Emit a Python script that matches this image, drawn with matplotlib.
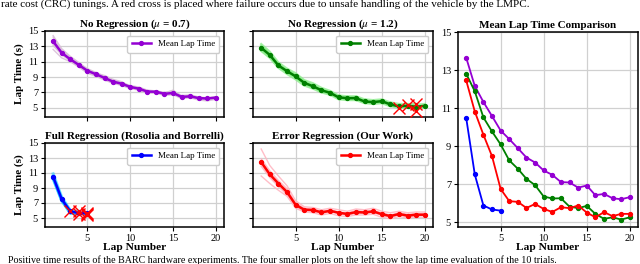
import matplotlib
matplotlib.use("Agg")
import matplotlib.pyplot as plt

plt.rcParams["font.family"] = ["Liberation Serif", "DejaVu Serif"]
plt.rcParams["mathtext.fontset"] = "stix"

LAPS = list(range(1, 21))

# mean lap times (s)
mean_mu07 = [13.65, 12.16, 11.32, 10.58, 9.82, 9.37, 8.89, 8.40, 8.14, 7.72,
             7.49, 7.11, 7.09, 6.82, 6.93, 6.42, 6.49, 6.26, 6.21, 6.32]
mean_mu12 = [12.81, 11.88, 10.51, 9.77, 9.09, 8.25, 7.81, 7.28, 6.95, 6.35,
             6.25, 6.26, 5.82, 5.74, 5.86, 5.44, 5.18, 5.26, 5.14, 5.26]
mean_full = [10.49, 7.51, 5.88, 5.67, 5.61]
mean_err = [12.46, 10.82, 9.60, 8.47, 6.75, 6.11, 6.07, 5.75, 5.96, 5.70,
            5.54, 5.79, 5.74, 5.88, 5.51, 5.26, 5.53, 5.32, 5.44, 5.44]

# individual trials (shorter lists = failed trial, marked with a cross)
trials_mu07 = [
    [14.2, 12.5, 11.6, 10.8, 10.1, 9.6, 9.1, 8.6, 8.3, 7.9, 7.7, 7.3, 7.2, 7.0, 7.2, 6.6, 6.7, 6.4, 6.3, 6.4],
    [12.6, 11.5, 11.0, 10.3, 9.5, 9.1, 8.6, 8.2, 7.9, 7.5, 7.3, 6.9, 6.9, 6.6, 6.7, 6.2, 6.3, 6.0, 5.9, 6.1],
    [13.9, 12.3, 11.2, 10.6, 9.9, 9.5, 9.0, 8.5, 8.2, 7.8, 7.5, 7.2, 7.0, 6.9, 7.0, 6.5, 6.6, 6.3, 6.3, 6.4],
    [13.3, 12.0, 11.4, 10.5, 9.7, 9.2, 8.8, 8.3, 8.0, 7.6, 7.4, 7.0, 7.1, 6.7, 6.8, 6.3, 6.4, 6.2, 6.1, 6.2],
    [14.4, 12.7, 11.7, 10.9, 10.0, 9.5, 9.2, 8.7, 8.4, 7.7, 7.6, 7.2, 7.2, 6.9, 7.3, 6.5, 6.5, 6.3, 6.3, 6.4],
    [13.1, 11.9, 11.1, 10.4, 9.6, 9.3, 8.7, 8.2, 8.0, 7.7, 7.4, 7.0, 7.0, 6.8, 6.8, 6.4, 6.4, 6.2, 6.1, 6.3],
]
trials_mu12 = [
    [13.3, 12.3, 10.9, 10.1, 9.5, 8.6, 8.2, 7.6, 7.2, 6.6, 6.5, 6.5, 6.1, 6.0, 6.1, 5.7, 5.5, 5.5, 5.4, 5.5],
    [12.4, 11.5, 10.2, 9.4, 8.7, 7.9, 7.5, 7.0, 6.7, 6.1, 6.0, 6.0, 5.6, 5.5, 5.6, 5.2, 5.0, 5.0, 4.9, 5.0],
    [13.0, 12.0, 10.7, 9.9, 9.3, 8.5, 8.0, 7.4, 7.1, 6.5, 6.3, 6.4, 5.9, 5.8, 6.0, 5.5, 5.0],
    [12.6, 11.7, 10.4, 9.6, 9.0, 8.1, 7.6, 7.2, 6.8, 6.3, 6.2, 6.2, 5.7, 5.7, 5.8, 5.4, 5.3, 5.3],
    [13.1, 12.1, 10.6, 9.9, 9.2, 8.4, 7.9, 7.3, 7.0, 6.4, 6.3, 6.3, 5.9, 5.8, 5.9, 5.5, 5.3, 5.4, 5.5],
    [12.5, 11.6, 10.3, 9.6, 8.9, 8.1, 7.7, 7.1, 6.9, 6.2, 6.1, 6.1, 5.7, 5.6, 5.7, 5.3, 5.1, 5.1, 4.6],
]
trials_full = [
    [10.9, 7.8, 6.0],
    [10.2, 7.3, 5.7, 5.5],
    [10.6, 7.6, 5.9, 5.9],
    [10.4, 7.4, 5.8, 5.6, 5.7],
    [10.5, 7.5, 6.0, 5.7, 5.4],
    [10.3, 7.4, 5.6, 5.6, 5.6],
]
trials_err = [
    [14.2, 12.0, 10.6, 9.3, 7.3, 6.5, 6.4, 6.1, 6.3, 6.1, 5.9, 6.2, 6.1, 6.3, 5.9, 5.7, 5.9, 5.7, 5.8, 5.8],
    [10.6, 9.6, 8.7, 7.9, 6.3, 5.8, 5.7, 5.4, 5.6, 5.3, 5.2, 5.4, 5.4, 5.5, 5.1, 4.9, 5.2, 5.0, 5.1, 5.1],
    [12.9, 11.3, 10.0, 8.9, 7.0, 6.3, 6.2, 5.9, 6.1, 5.8, 5.7, 6.0, 5.9, 6.0, 5.7, 5.4, 5.7, 5.5, 5.6, 5.6],
    [12.2, 10.5, 9.3, 8.2, 6.5, 5.9, 5.9, 5.6, 5.8, 5.6, 5.4, 5.6, 5.6, 5.7, 5.4, 5.1, 5.4, 5.2, 5.3, 5.3],
    [12.6, 10.9, 9.8, 8.6, 6.9, 6.2, 6.1, 5.8, 6.0, 5.7, 5.6, 5.8, 5.7, 5.9, 5.5, 5.3, 5.5, 5.3, 5.4, 5.4],
    [11.9, 10.4, 9.2, 8.1, 6.6, 6.0, 6.0, 5.6, 5.9, 5.6, 5.4, 5.7, 5.7, 5.8, 5.4, 5.2, 5.5, 5.2, 5.4, 5.4],
]

PANELS = [
    (r"No Regression ($\mu$ = 0.7)", mean_mu07, trials_mu07, "darkviolet", "thistle", 1.0, 0.9),
    (r"No Regression ($\mu$ = 1.2)", mean_mu12, trials_mu12, "green", "lightgreen", 1.6, 0.8),
    ("Full Regression (Rosolia and Borrelli)", mean_full, trials_full, "blue", "deepskyblue", 2.2, 0.45),
    ("Error Regression (Our Work)", mean_err, trials_err, "red", "lightpink", 1.0, 0.9),
]

YTICKS = [5, 7, 9, 11, 13, 15]
XTICKS = [5, 10, 15, 20]

W, H = 640, 264


def px_axes(fig, x0, y0, x1, y1):
    return fig.add_axes([x0 / W, 1 - y1 / H, (x1 - x0) / W, (y1 - y0) / H])


def style(ax, ylim):
    ax.set_xlim(0.05, 20.95)
    ax.set_ylim(*ylim)
    ax.set_xticks(XTICKS)
    ax.set_yticks(YTICKS)
    ax.grid(True, color="#d0d0d0", lw=0.9)
    ax.set_axisbelow(True)
    ax.tick_params(labelsize=7.5, length=3, width=0.8, pad=2)
    for s in ax.spines.values():
        s.set_linewidth(1.1)


fig = plt.figure(figsize=(W / 100, H / 100), dpi=100)

boxes = [(45, 31, 224, 117), (253, 31, 433, 117), (45, 143, 224, 227), (253, 143, 433, 227)]
for i, (box, panel) in enumerate(zip(boxes, PANELS)):
    title, mean, trials, color, tcolor, tlw, talpha = panel
    ax = px_axes(fig, *box)
    style(ax, (3.8, 15))
    for t in trials:
        ax.plot(LAPS[:len(t)], t, color=tcolor, lw=tlw, alpha=talpha, zorder=2)
    ax.plot(LAPS[:len(mean)], mean, color=color, lw=1.8, marker="o", ms=2.8,
            label="Mean Lap Time", zorder=3)
    for t in trials:
        if len(t) < len(LAPS):
            ax.plot(len(t), t[-1], "x", color="red", ms=9, mew=1.0, zorder=4)
    ax.set_title(title, fontsize=8, fontweight="bold", pad=3)
    ax.legend(loc="upper right", fontsize=6.5, handlelength=2.1, borderpad=0.5,
              framealpha=1, edgecolor="#cccccc")
    if i % 2 == 1:
        ax.tick_params(labelleft=False)
    else:
        ax.set_ylabel("Lap Time (s)", fontsize=8, fontweight="bold", labelpad=3)
    if i < 2:
        ax.tick_params(labelbottom=False)
    else:
        ax.set_xlabel("Lap Number", fontsize=8.2, fontweight="bold", labelpad=0)

ax = px_axes(fig, 458, 32, 638, 227)
style(ax, (4.75, 15))
for title, mean, trials, color, tcolor, tlw, talpha in PANELS:
    ax.plot(LAPS[:len(mean)], mean, color=color, lw=1.3, marker="o", ms=2.8)
ax.set_title("Mean Lap Time Comparison", fontsize=8, fontweight="bold", pad=3)
ax.set_xlabel("Lap Number", fontsize=8.2, fontweight="bold", labelpad=0)

fig.text(1 / W, 1 - 7 / H,
         "rate cost (CRC) tunings. A red cross is placed where failure occurs due to "
         "unsafe handling of the vehicle by the LMPC.",
         fontsize=8, va="baseline", ha="left")
fig.text(8 / W, 1 - 255.5 / H,
         "Positive time results of the BARC hardware experiments. The four smaller plots "
         "on the left show the lap time evaluation of the 10 trials.",
         fontsize=7.2, va="top", ha="left")

fig.savefig("out.png", dpi=100)
